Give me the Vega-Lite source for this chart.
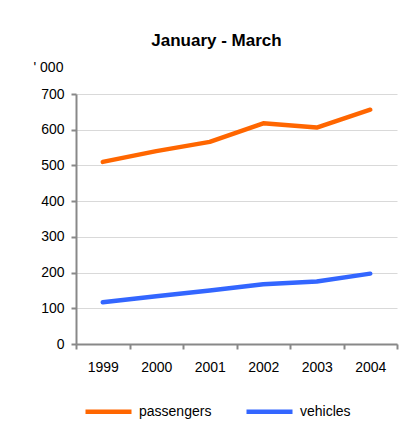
{
  "$schema": "https://vega.github.io/schema/vega-lite/v6.json",
  "autosize": "none",
  "width": 321,
  "height": 250,
  "padding": {"left": 76, "top": 94, "right": 15, "bottom": 94},
  "background": "white",
  "config": {
    "font": "Liberation Sans",
    "view": {"stroke": null},
    "axis": {"labelFont": "Liberation Sans", "titleFont": "Liberation Sans"}
  },
  "title": {
    "text": "January - March",
    "fontSize": 17,
    "fontWeight": "bold",
    "color": "#000000",
    "anchor": "middle",
    "frame": "group",
    "dx": -20,
    "dy": 15,
    "baseline": "alphabetic",
    "offset": 12
  },
  "data": {
    "values": [
      {"year": "1999", "series": "passengers", "value": 510},
      {"year": "2000", "series": "passengers", "value": 540},
      {"year": "2001", "series": "passengers", "value": 566},
      {"year": "2002", "series": "passengers", "value": 618},
      {"year": "2003", "series": "passengers", "value": 606},
      {"year": "2004", "series": "passengers", "value": 656},
      {"year": "1999", "series": "vehicles", "value": 117},
      {"year": "2000", "series": "vehicles", "value": 134},
      {"year": "2001", "series": "vehicles", "value": 150},
      {"year": "2002", "series": "vehicles", "value": 167},
      {"year": "2003", "series": "vehicles", "value": 175},
      {"year": "2004", "series": "vehicles", "value": 197}
    ]
  },
  "mark": {"type": "line", "strokeWidth": 4.5, "strokeCap": "round", "strokeJoin": "round"},
  "encoding": {
    "x": {
      "field": "year",
      "type": "ordinal",
      "bandPosition": 0.5,
      "scale": {"type": "band", "paddingInner": 0, "paddingOuter": 0},
      "axis": {
        "title": null,
        "labelAngle": 0,
        "labelFontSize": 14,
        "labelColor": "#000000",
        "labelPadding": 11,
        "tickBand": "extent",
        "tickSize": 5,
        "tickColor": "#888888",
        "tickWidth": 2,
        "domainColor": "#888888",
        "domainWidth": 2,
        "grid": false
      }
    },
    "y": {
      "field": "value",
      "type": "quantitative",
      "scale": {"domain": [0, 700], "nice": false},
      "axis": {
        "title": "' 000",
        "titleAngle": 0,
        "titleAlign": "left",
        "titleBaseline": "alphabetic",
        "titleX": -43,
        "titleY": -23,
        "titleFontSize": 14,
        "titleFontWeight": "normal",
        "titleColor": "#000000",
        "values": [0, 100, 200, 300, 400, 500, 600, 700],
        "labelFontSize": 14,
        "labelColor": "#000000",
        "labelPadding": 7,
        "tickSize": 5,
        "tickColor": "#888888",
        "tickWidth": 2,
        "domainColor": "#888888",
        "domainWidth": 2,
        "grid": true,
        "gridColor": "#d9d9d9",
        "gridWidth": 1
      }
    },
    "color": {
      "field": "series",
      "type": "nominal",
      "scale": {"domain": ["passengers", "vehicles"], "range": ["#FF6600", "#3366FF"]},
      "legend": {
        "title": null,
        "orient": "none",
        "direction": "horizontal",
        "legendX": 7,
        "legendY": 292,
        "symbolType": "stroke",
        "symbolSize": 2116,
        "symbolStrokeWidth": 4.5,
        "labelFontSize": 14,
        "labelColor": "#000000",
        "labelOffset": 5,
        "columnPadding": 25
      }
    }
  }
}
